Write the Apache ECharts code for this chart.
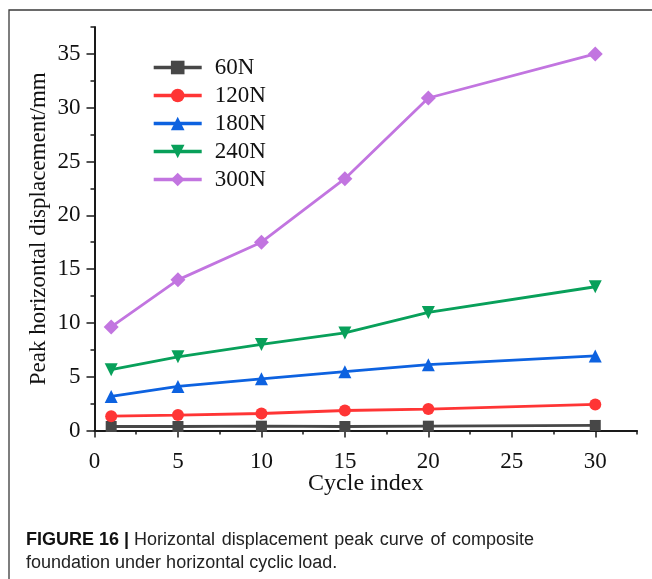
<!DOCTYPE html>
<html>
<head>
<meta charset="utf-8">
<script src="https://cdn.jsdelivr.net/npm/echarts@6/dist/echarts.min.js"></script>
<style>
  html, body { margin: 0; padding: 0; background: #fff; }
  #chart { width: 652px; height: 579px; }
</style>
</head>
<body>
<div id="chart"></div>
<script>
// Peak horizontal displacement (mm) per cycle for each horizontal load level
const cycles = [1, 5, 10, 15, 20, 30];
const seriesNames = ['60N', '120N', '180N', '240N', '300N'];
const disp60 = [0.37, 0.37, 0.40, 0.37, 0.40, 0.47];
const disp120 = [1.33, 1.43, 1.58, 1.86, 1.99, 2.42];
const disp180 = [3.17, 4.10, 4.80, 5.47, 6.12, 6.93];
const disp240 = [5.65, 6.85, 8.00, 9.07, 10.97, 13.36];
const disp300 = [9.63, 14.00, 17.50, 23.40, 30.90, 35.00];

const xTicks = [0, 5, 10, 15, 20, 25, 30];
const yTicks = [0, 5, 10, 15, 20, 25, 30, 35];

const captionBold = 'FIGURE 16 |';
const captionLine1 = ['Horizontal', 'displacement', 'peak', 'curve', 'of', 'composite'];
const captionLine2 = 'foundation under horizontal cyclic load.';

const colors = ['#474747', '#ff3535', '#0d62e0', '#08a05a', '#c275e0'];
const symbols = ['rect', 'circle', 'triangle', 'triangle', 'diamond'];
const symbolSizes = [11, 12, 13, 13, 15];
const symbolRotations = [0, 0, 0, 180, 0];
const allData = [disp60, disp120, disp180, disp240, disp300];

// Plot area in pixels, and axis extents
const W = 652, H = 579;
const plotL = 94.5, plotR = 637, plotT = 27, plotB = 430.5;
const xMin = 0, xMax = 32.5, yMin = 0, yMax = 37.5;
const xMajorMax = xTicks[xTicks.length - 1];
const yMajorMax = yTicks[yTicks.length - 1];

// Second (overlay) grid spans only up to the last labelled tick, so long
// ticks are drawn at multiples of 5 while the axis end gets a short tick.
const g2Right = W - (plotL + (plotR - plotL) * (xMajorMax - xMin) / (xMax - xMin));
const g2Top = plotT + (plotB - plotT) * (yMax - yMajorMax) / (yMax - yMin);

const serif = 'Liberation Serif, Times New Roman, serif';
const sans = 'Liberation Sans, Arial, sans-serif';
const axisColor = '#1a1a1a';

const chart = echarts.init(document.getElementById('chart'), null, { renderer: 'canvas' });

const series = seriesNames.map((name, i) => ({
  name: name,
  type: 'line',
  xAxisIndex: 0,
  yAxisIndex: 0,
  data: cycles.map((c, k) => [c, allData[i][k]]),
  symbol: symbols[i],
  symbolSize: symbolSizes[i],
  symbolRotate: symbolRotations[i],
  showAllSymbol: true,
  lineStyle: { color: colors[i], width: 2.8 },
  itemStyle: { color: colors[i] },
  emphasis: { disabled: true },
  z: 3 + i
}));

const labelFmt = (v) => (Math.abs(v % 5) < 1e-9 ? String(v) : '');

// Caption layout: bold figure tag, then a justified first line
const capFont = 18;
const capLeft = 26;
const line1End = 534;
const line1Y = 540, line2Y = 563;

const option = {
  animation: false,
  backgroundColor: '#ffffff',
  grid: [
    { left: plotL, right: W - plotR, top: plotT, bottom: H - plotB, containLabel: false },
    { left: plotL, right: g2Right, top: g2Top, bottom: H - plotB, containLabel: false }
  ],
  legend: {
    orient: 'vertical',
    left: 152,
    top: 56,
    padding: 0,
    itemWidth: 48,
    itemHeight: 17,
    itemGap: 5,
    data: seriesNames,
    lineStyle: { width: 3.4 },
    textStyle: {
      fontFamily: serif,
      fontSize: 23,
      lineHeight: 23,
      color: '#111',
      padding: [0, 0, 0, 8]
    }
  },
  xAxis: [
    {
      type: 'value', gridIndex: 0,
      min: xMin, max: xMax, interval: 2.5,
      name: 'Cycle index',
      nameLocation: 'middle',
      nameGap: 41,
      nameMoveOverlap: false,
      nameTextStyle: { fontFamily: serif, fontSize: 24, color: '#111' },
      axisLine: { show: true, onZero: false, lineStyle: { color: axisColor, width: 2 } },
      axisTick: { show: true, inside: false, length: 4, lineStyle: { color: axisColor, width: 1.5 } },
      axisLabel: { formatter: labelFmt, margin: 20, fontFamily: serif, fontSize: 23, color: '#111' },
      splitLine: { show: false }
    },
    {
      type: 'value', gridIndex: 1,
      min: xMin, max: xMajorMax, interval: 5,
      axisLine: { show: false },
      axisTick: { show: true, inside: false, length: 7, lineStyle: { color: axisColor, width: 1.5 } },
      axisLabel: { show: false },
      splitLine: { show: false }
    }
  ],
  yAxis: [
    {
      type: 'value', gridIndex: 0,
      min: yMin, max: yMax, interval: 2.5,
      name: 'Peak horizontal displacement/mm',
      nameLocation: 'middle',
      nameGap: 44,
      nameMoveOverlap: false,
      nameTextStyle: { fontFamily: serif, fontSize: 23, color: '#111' },
      axisLine: { show: true, onZero: false, lineStyle: { color: axisColor, width: 2 } },
      axisTick: { show: true, inside: false, length: 4, lineStyle: { color: axisColor, width: 1.5 } },
      axisLabel: { formatter: labelFmt, margin: 14, fontFamily: serif, fontSize: 23, color: '#111' },
      splitLine: { show: false }
    },
    {
      type: 'value', gridIndex: 1,
      min: yMin, max: yMajorMax, interval: 5,
      axisLine: { show: false },
      axisTick: { show: true, inside: false, length: 8, lineStyle: { color: axisColor, width: 1.5 } },
      axisLabel: { show: false },
      splitLine: { show: false }
    }
  ],
  series: series
};

chart.setOption(option);

// Measure caption pieces so the first line ends flush with the right margin
const measureCtx = document.createElement('canvas').getContext('2d');
measureCtx.font = 'bold ' + capFont + 'px ' + sans;
const boldW = measureCtx.measureText(captionBold + ' ').width;
measureCtx.font = capFont + 'px ' + sans;
const wordsW = captionLine1.reduce((s, w) => s + measureCtx.measureText(w).width, 0);
const line1Start = capLeft + boldW;
const gapW = (line1End - line1Start - wordsW) / (captionLine1.length - 1);

chart.setOption({
  graphic: [
    {
      type: 'rect',
      shape: { x: 9, y: 10, width: 700, height: 700 },
      style: { fill: 'none', stroke: '#3a3a3a', lineWidth: 1.3 },
      silent: true, z: 0
    },
    {
      type: 'text',
      x: capLeft, y: line1Y,
      silent: true,
      style: {
        text: captionBold,
        fontFamily: sans, fontWeight: 'bold', fontSize: capFont,
        fill: '#111', verticalAlign: 'middle'
      }
    },
    {
      type: 'text',
      x: line1Start, y: line1Y,
      silent: true,
      style: {
        text: captionLine1.join('{sp| }'),
        rich: { sp: { width: gapW } },
        fontFamily: sans, fontSize: capFont,
        fill: '#222', verticalAlign: 'middle'
      }
    },
    {
      type: 'text',
      x: capLeft, y: line2Y,
      silent: true,
      style: {
        text: captionLine2,
        fontFamily: sans, fontSize: capFont,
        fill: '#222', verticalAlign: 'middle'
      }
    }
  ]
});
</script>
</body>
</html>
